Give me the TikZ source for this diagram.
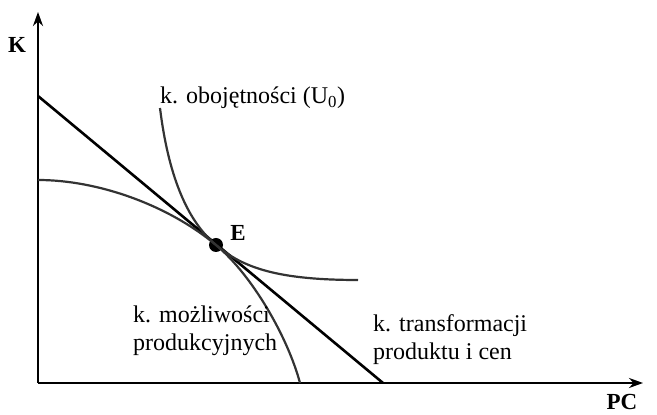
\documentclass[tikz,border=0pt]{standalone}
\usepackage{fontspec}
\setmainfont{Liberation Serif}
\usepackage{xcolor}
\definecolor{AxisInk}{HTML}{000000}
\definecolor{CurveInk}{HTML}{333333}
\usetikzlibrary{arrows.meta}

\begin{document}
\begin{tikzpicture}[
        x=1pt, y=1pt,
        axis/.style={
            -{Stealth[length=14pt,width=10pt]},
            line width=2.6pt,
            draw=AxisInk
        },
        budget/.style={
            line width=2.6pt,
            draw=AxisInk
        },
        curve/.style={
            line width=2.2pt,
            draw=CurveInk
        },
        axislabel/.style={
            font=\fontsize{23}{27}\selectfont\bfseries,
            inner sep=0pt
        },
        curvelabel/.style={
            font=\fontsize{24}{28}\selectfont,
            align=left,
            inner sep=0pt
        }
    ]
        \useasboundingbox (-38,-32) rectangle (619,383);

        % axes
        \coordinate (origin) at (0,0);
        \coordinate (ktop) at (0,371);
        \coordinate (pcend) at (605,0);
        \draw[axis] (origin) -- (ktop);
        \draw[axis] (origin) -- (pcend);
        \node[axislabel] (klabel) at (-21,338) {K};
        \node[axislabel] (pclabel) at (584,-19) {PC};

        % tangency point
        \node[circle, fill=AxisInk, inner sep=0pt, minimum size=14pt] (equil) at (178,138) {};
        \node[axislabel] (elabel) at (200,150) {E};

        % k. transformacji
        \coordinate (budgettop) at (0,287);
        \coordinate (budgetend) at (345,0);
        \draw[budget] (budgettop) -- (budgetend);

        % k. mozliwosci produkcyjnych
        \coordinate (ppftop) at (0,203);
        \coordinate (ppfend) at (262,0);
        \draw[curve] (ppftop) .. controls (60,203) and (130,178) .. (equil.center)
            .. controls (215,107) and (250,45) .. (ppfend);

        % k. obojetnosci
        \coordinate (indiftop) at (122,275);
        \coordinate (indifend) at (320,103);
        \draw[curve] (indiftop) .. controls (130,210) and (148,163) .. (equil.center)
            .. controls (205,115) and (240,103) .. (indifend);

        \node[curvelabel, anchor=west] (indiflabel) at (122,285)
            {k. obojętności (U\textsubscript{0})};
        \node[curvelabel, anchor=west] (ppflabel) at (95,52)
            {k. możliwości\\produkcyjnych};
        \node[curvelabel, anchor=west] (budgetlabel) at (335,43)
            {k. transformacji\\produktu i cen};
    \end{tikzpicture}
\end{document}
